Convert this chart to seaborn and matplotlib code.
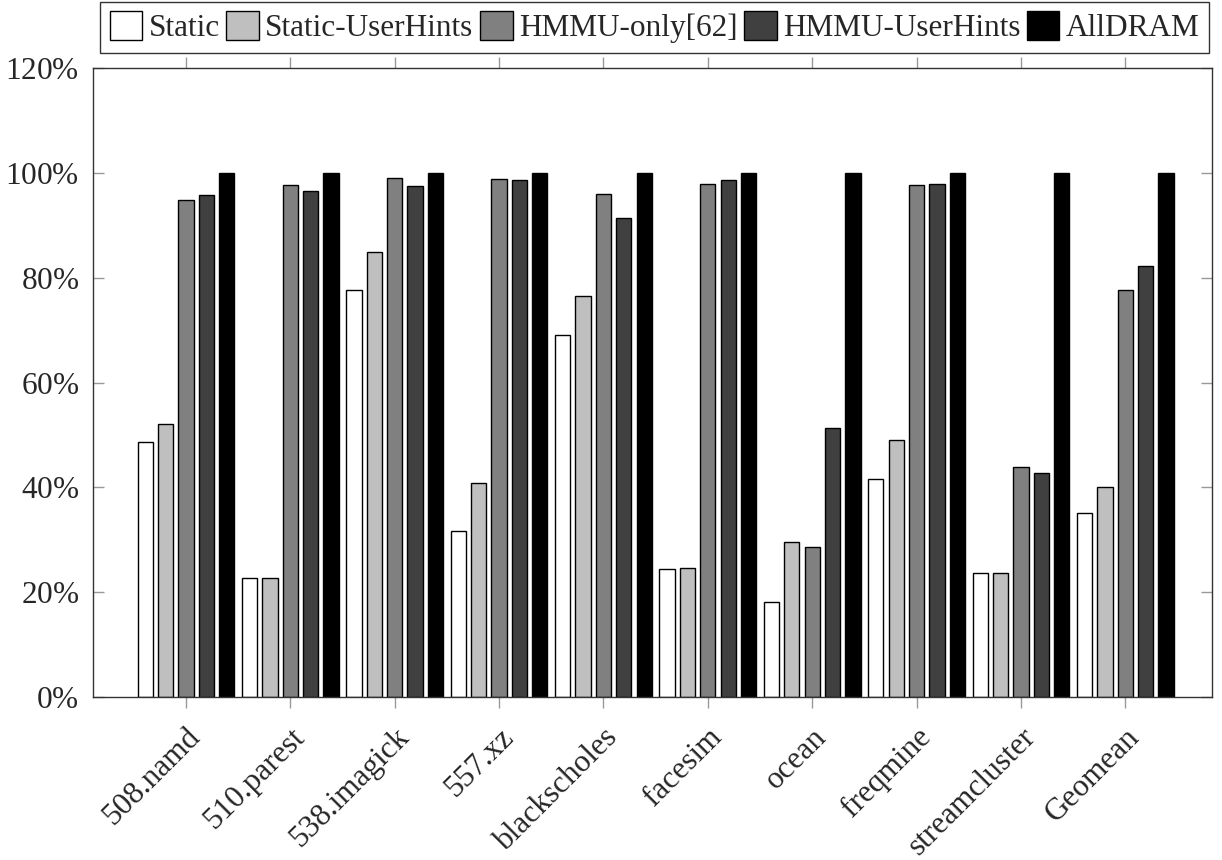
import matplotlib
matplotlib.use("Agg")
import matplotlib.pyplot as plt
import matplotlib.transforms as mtransforms
import seaborn as sns
import pandas as pd

categories = ["508.namd", "510.parest", "538.imagick", "557.xz", "blackscholes",
              "facesim", "ocean", "freqmine", "streamcluster", "Geomean"]
series_names = ["Static", "Static-UserHints", "HMMU-only[62]", "HMMU-UserHints", "AllDRAM"]
static = [48.7, 22.8, 77.6, 31.6, 69.1, 24.4, 18.2, 41.5, 23.7, 35.2]
static_userhints = [52.0, 22.7, 84.9, 40.8, 76.5, 24.6, 29.5, 49.0, 23.7, 40.1]
hmmu_only = [94.8, 97.6, 99.0, 98.9, 95.9, 97.9, 28.6, 97.6, 43.8, 77.7]
hmmu_userhints = [95.7, 96.5, 97.5, 98.7, 91.3, 98.7, 51.3, 97.9, 42.7, 82.3]
alldram = [100, 100, 100, 100, 100, 100, 100, 100, 100, 100]
y_ticks = [0, 20, 40, 60, 80, 100, 120]

colors = ["#ffffff", "#bfbfbf", "#808080", "#404040", "#000000"]
FS = 22.5

rows = []
for name, vals in zip(series_names,
                      [static, static_userhints, hmmu_only, hmmu_userhints, alldram]):
    for cat, v in zip(categories, vals):
        rows.append({"benchmark": cat, "config": name, "value": v})
df = pd.DataFrame(rows)

sns.set_theme(style="white")
plt.rcParams["font.family"] = ["Liberation Serif", "DejaVu Serif"]
plt.rcParams["mathtext.fontset"] = "custom"
plt.rcParams["mathtext.rm"] = "Liberation Serif"
plt.rcParams["mathtext.it"] = "Liberation Serif:italic"

fig = plt.figure(figsize=(12.22, 8.60), dpi=100)
ax = fig.add_axes([0.0761, 0.1895, 0.9918 - 0.0761, 0.9209 - 0.1895])

sns.barplot(data=df, x="benchmark", y="value", hue="config",
            order=categories, hue_order=series_names, palette=colors,
            width=0.975, gap=0.25, edgecolor="black", linewidth=1.0,
            saturation=1, errorbar=None, ax=ax)

handles, labels = ax.get_legend_handles_labels()
if ax.get_legend() is not None:
    ax.get_legend().remove()

ax.set_xlim(-0.89, 9.83)
ax.set_ylim(0, 120)
ax.set_yticks(y_ticks)
ax.set_yticklabels([f"{t}" + r"$\mathit{\%}$" for t in y_ticks], fontsize=FS)
ax.set_xlabel("")
ax.set_ylabel("")
ax.set_xticks(range(len(categories)))
ax.set_xticklabels(categories, rotation=45, ha="right", va="center",
                   rotation_mode="anchor", fontsize=FS)

for sp in ax.spines.values():
    sp.set_visible(True)
    sp.set_color("#333333")
    sp.set_linewidth(1.0)

ax.tick_params(axis="x", direction="out", length=8, width=1, color="#999999",
               top=True, bottom=True, pad=12)
ax.tick_params(axis="y", direction="in", length=8, width=1, color="#999999",
               left=True, right=True, pad=10)
ax.grid(False)

# nudge rotated category labels to the right of their ticks
shift = mtransforms.ScaledTranslation(10 / 100, -8 / 100, fig.dpi_scale_trans)
for lbl in ax.get_xticklabels():
    lbl.set_transform(lbl.get_transform() + shift)

leg = fig.legend(handles, labels, loc="upper center", bbox_to_anchor=(0.5356, 0.998),
                 ncol=5, fontsize=FS, frameon=True, fancybox=False,
                 edgecolor="black", handlelength=1.05, handleheight=1.05,
                 handletextpad=0.2, columnspacing=0.2, borderpad=0.3,
                 borderaxespad=0.0)
leg.get_frame().set_linewidth(1.0)

fig.savefig("out.png", dpi=100)
